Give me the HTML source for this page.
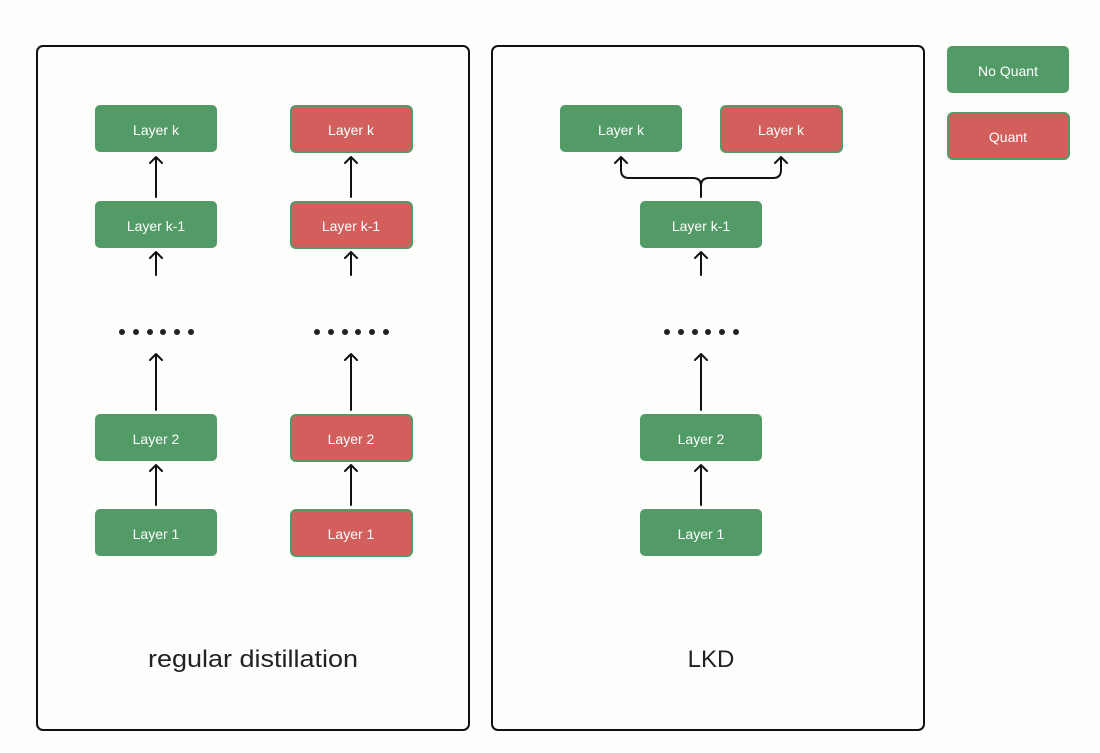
<!DOCTYPE html>
<html><head><meta charset="utf-8"><style>
html,body{margin:0;padding:0;background:#fdfdfb;}
svg{display:block;}
text{font-family:"Liberation Sans",sans-serif;}
</style></head><body>
<svg width="1100" height="753" viewBox="0 0 1100 753" xmlns="http://www.w3.org/2000/svg">
<rect width="1100" height="753" fill="#fdfdfb"/>
<g fill="none" stroke="#111" stroke-width="2">
<rect x="37" y="46" width="432" height="684" rx="6"/>
<rect x="492" y="46" width="432" height="684" rx="6"/>
</g>
<g font-size="14" fill="#fff" text-anchor="middle">
<g fill="#529b66">
<rect x="95" y="105" width="122" height="47" rx="5"/>
<rect x="95" y="201" width="122" height="47" rx="5"/>
<rect x="95" y="414" width="122" height="47" rx="5"/>
<rect x="95" y="509" width="122" height="47" rx="5"/>
<rect x="560" y="105" width="122" height="47" rx="5"/>
<rect x="640" y="201" width="122" height="47" rx="5"/>
<rect x="640" y="414" width="122" height="47" rx="5"/>
<rect x="640" y="509" width="122" height="47" rx="5"/>
<rect x="947" y="46" width="122" height="47" rx="5"/>
</g>
<g fill="#d25f5c" stroke="#529b66" stroke-width="2">
<rect x="291" y="106" width="121" height="46" rx="5"/>
<rect x="291" y="202" width="121" height="46" rx="5"/>
<rect x="291" y="415" width="121" height="46" rx="5"/>
<rect x="291" y="510" width="121" height="46" rx="5"/>
<rect x="721" y="106" width="121" height="46" rx="5"/>
<rect x="948" y="113" width="121" height="46" rx="5"/>
</g>
<text x="156" y="135">Layer k</text>
<text x="156" y="231">Layer k-1</text>
<text x="156" y="444">Layer 2</text>
<text x="156" y="539">Layer 1</text>
<text x="351" y="135">Layer k</text>
<text x="351" y="231">Layer k-1</text>
<text x="351" y="444">Layer 2</text>
<text x="351" y="539">Layer 1</text>
<text x="621" y="135">Layer k</text>
<text x="781" y="135">Layer k</text>
<text x="701" y="231">Layer k-1</text>
<text x="701" y="444">Layer 2</text>
<text x="701" y="539">Layer 1</text>
<text x="1008" y="76">No Quant</text>
<text x="1008" y="142">Quant</text>
</g>
<g fill="none" stroke="#111" stroke-width="2" stroke-linejoin="round" stroke-linecap="round">
<path d="M156 197V157M150 163L156 157L162 163"/>
<path d="M156 275V252M150 258L156 252L162 258"/>
<path d="M156 410V354M150 360L156 354L162 360"/>
<path d="M156 505V465M150 471L156 465L162 471"/>
<path d="M351 197V157M345 163L351 157L357 163"/>
<path d="M351 275V252M345 258L351 252L357 258"/>
<path d="M351 410V354M345 360L351 354L357 360"/>
<path d="M351 505V465M345 471L351 465L357 471"/>
<path d="M701 275V252M695 258L701 252L707 258"/>
<path d="M701 410V354M695 360L701 354L707 360"/>
<path d="M701 505V465M695 471L701 465L707 471"/>
<path d="M701 197V186Q701 178 693 178H629Q621 178 621 170V157M615 163L621 157L627 163"/>
<path d="M701 186Q701 178 709 178H773Q781 178 781 170V157M775 163L781 157L787 163"/>
</g>
<g fill="#222">
<circle cx="122" cy="332" r="3"/><circle cx="136" cy="332" r="3"/><circle cx="150" cy="332" r="3"/><circle cx="163" cy="332" r="3"/><circle cx="177" cy="332" r="3"/><circle cx="191" cy="332" r="3"/>
<circle cx="317" cy="332" r="3"/><circle cx="331" cy="332" r="3"/><circle cx="345" cy="332" r="3"/><circle cx="358" cy="332" r="3"/><circle cx="372" cy="332" r="3"/><circle cx="386" cy="332" r="3"/>
<circle cx="667" cy="332" r="3"/><circle cx="681" cy="332" r="3"/><circle cx="695" cy="332" r="3"/><circle cx="708" cy="332" r="3"/><circle cx="722" cy="332" r="3"/><circle cx="736" cy="332" r="3"/>
</g>
<text x="253" y="667" font-size="24" fill="#222" text-anchor="middle" textLength="210" lengthAdjust="spacingAndGlyphs">regular distillation</text>
<text x="711" y="667" font-size="24" fill="#222" text-anchor="middle">LKD</text>
</svg>
</body></html>
